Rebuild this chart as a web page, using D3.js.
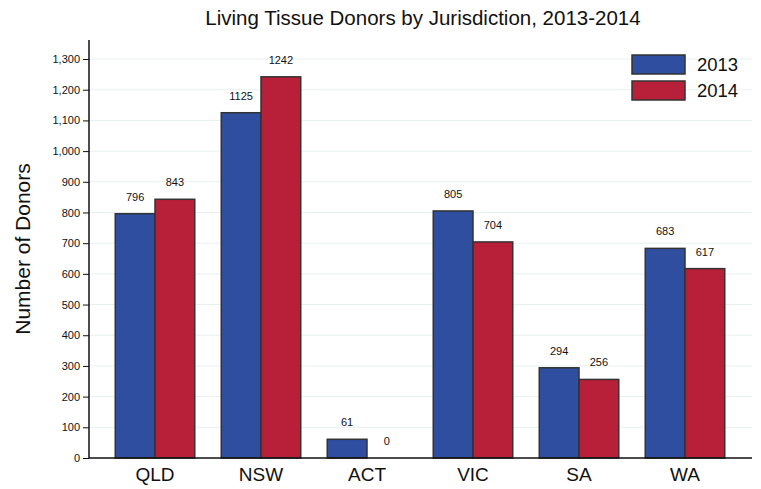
<!DOCTYPE html>
<html><head><meta charset="utf-8">
<script src="https://cdn.jsdelivr.net/npm/d3@7"></script>
<style>body{margin:0;background:#fff;font-family:"Liberation Sans",Arial,sans-serif;}</style>
</head><body><svg id="c" width="761" height="489"></svg>
<script>
const categories = ["QLD","NSW","ACT","VIC","SA","WA"];
const seriesNames = ["2013","2014"];
const values2013 = [796,1125,61,805,294,683];
const values2014 = [843,1242,0,704,256,617];
const yTicks = [0,100,200,300,400,500,600,700,800,900,1000,1100,1200,1300];
const colors = ["#2f4ea0","#b81f38"];

const svg = d3.select("#c");
const pLeft = 89, pRight = 752, pTop = 40, pBottom = 458;
const y = d3.scaleLinear().domain([0,1362]).range([pBottom, pTop]);
const x = d3.scaleBand().domain(categories).range([102,738]).paddingInner(0.25).paddingOuter(0.125);
const xs = d3.scaleBand().domain(seriesNames).range([0, x.bandwidth()]);

// gridlines
svg.append("g").selectAll("line").data(yTicks.slice(1)).join("line")
  .attr("x1", pLeft).attr("x2", pRight).attr("y1", d=>y(d)).attr("y2", d=>y(d))
  .attr("stroke","#e8f0f0").attr("stroke-width",1);

const series = [values2013, values2014];
series.forEach((vals, si) => {
  const g = svg.append("g");
  g.selectAll("rect").data(categories).join("rect")
    .attr("x", (c)=>x(c)+xs(seriesNames[si]))
    .attr("width", xs.bandwidth())
    .attr("y", (c,i)=>y(vals[i]))
    .attr("height", (c,i)=>y(0)-y(vals[i]))
    .attr("fill", colors[si]).attr("stroke","#333").attr("stroke-width",1.5);
  g.selectAll("text").data(categories).join("text")
    .attr("x", (c)=>x(c)+xs(seriesNames[si])+xs.bandwidth()/2)
    .attr("y", (c,i)=>y(vals[i])-13)
    .attr("text-anchor","middle").attr("font-size",11).attr("fill","#111")
    .text((c,i)=>vals[i]);
});

// y axis
const ya = svg.append("g").attr("transform",`translate(${pLeft},0)`)
  .call(d3.axisLeft(y).tickValues(yTicks).tickSize(6).tickPadding(3).tickFormat(d3.format(",")).tickSizeOuter(0));
ya.select(".domain").remove();
ya.selectAll("text").attr("font-size",11).attr("font-family","Liberation Sans, Arial, sans-serif").attr("fill","#111");
ya.selectAll(".tick line").attr("stroke","#111");
svg.append("line").attr("x1",pLeft).attr("x2",pLeft).attr("y1",pTop).attr("y2",pBottom).attr("stroke","#111").attr("stroke-width",1.5);

// x axis
const xa = svg.append("g").attr("transform",`translate(0,${pBottom})`)
  .call(d3.axisBottom(x).tickSize(0).tickPadding(10));
xa.select(".domain").remove();
xa.selectAll("text").attr("font-size",19).attr("font-family","Liberation Sans, Arial, sans-serif").attr("fill","#111");
svg.append("line").attr("x1",pLeft).attr("x2",pRight).attr("y1",pBottom).attr("y2",pBottom).attr("stroke","#111").attr("stroke-width",1.5);

// title
svg.append("text").attr("x",423).attr("y",25).attr("text-anchor","middle").attr("font-size",20.5).attr("fill","#111")
  .text("Living Tissue Donors by Jurisdiction, 2013-2014");
// y label
svg.append("text").attr("transform","translate(30,249) rotate(-90)").attr("text-anchor","middle").attr("font-size",21).attr("fill","#111")
  .text("Number of Donors");

// legend
const lg = svg.append("g");
seriesNames.forEach((s,i)=>{
  lg.append("rect").attr("x",632).attr("y",55+i*26).attr("width",53).attr("height",19)
    .attr("fill",colors[i]).attr("stroke","#333").attr("stroke-width",1.5);
  lg.append("text").attr("x",697).attr("y",71+i*26).attr("font-size",18.5).attr("fill","#111").text(s);
});
</script></body></html>
